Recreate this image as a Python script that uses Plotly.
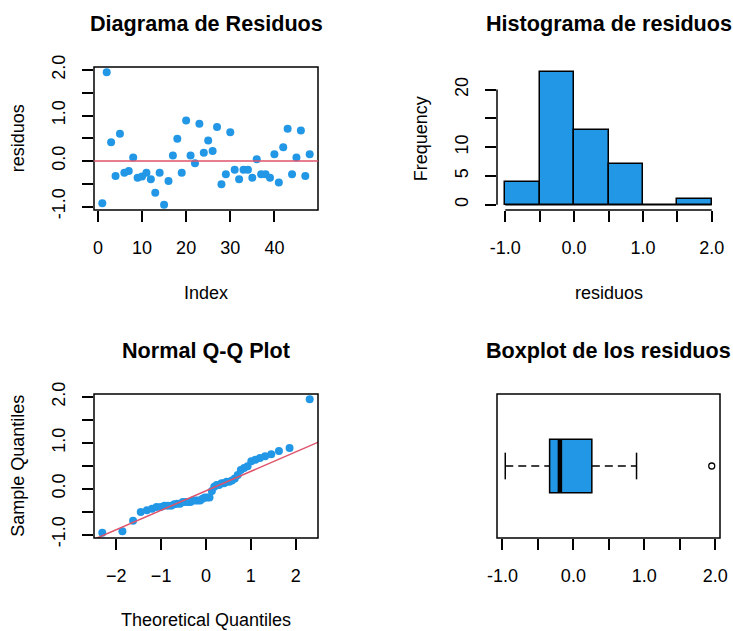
import statistics
import numpy as np
import plotly.graph_objects as go

# Residuals of the fitted model, in observation order
residuos = [
    -0.93, 1.95, 0.41, -0.33, 0.60, -0.26, -0.22, 0.08, -0.37, -0.34,
    -0.26, -0.40, -0.70, -0.26, -0.96, -0.44, 0.12, 0.49, -0.26, 0.89,
    0.12, -0.05, 0.82, 0.18, 0.45, 0.22, 0.75, -0.51, -0.29, 0.63,
    -0.19, -0.40, -0.19, -0.19, -0.37, 0.04, -0.29, -0.29, -0.37, 0.15,
    -0.47, 0.30, 0.71, -0.29, 0.08, 0.67, -0.33, 0.15,
]

# Histogram breaks and axis ticks
breaks = [-1.0, -0.5, 0.0, 0.5, 1.0, 1.5, 2.0]
res_ticks = [-1.0, -0.5, 0.0, 0.5, 1.0, 1.5, 2.0]
res_ticktext = ["-1.0", "", "0.0", "", "1.0", "", "2.0"]
index_ticks = [0, 10, 20, 30, 40]
freq_ticks = [0, 5, 10, 15, 20]
freq_ticktext = ["0", "5", "10", "", "20"]
qq_ticks = [-2, -1, 0, 1, 2]

titles = ["Diagrama de Residuos", "Histograma de residuos",
          "Normal Q-Q Plot", "Boxplot de los residuos"]

BLUE = "#2297E6"
RED = "#DF536B"
FONT = "Liberation Sans, Arial, sans-serif"
W, H = 733, 631

r = np.array(residuos)
n = len(r)
idx = np.arange(1, n + 1)


def pad(lo, hi):
    d = (hi - lo) * 0.04
    return [lo - d, hi + d]


# Histogram counts with right-closed bins (lowest included)
counts = []
for i in range(len(breaks) - 1):
    a, b = breaks[i], breaks[i + 1]
    if i == 0:
        counts.append(int(np.sum((r >= a) & (r <= b))))
    else:
        counts.append(int(np.sum((r > a) & (r <= b))))
centers = [(breaks[i] + breaks[i + 1]) / 2 for i in range(len(breaks) - 1)]
widths = [breaks[i + 1] - breaks[i] for i in range(len(breaks) - 1)]

# Normal Q-Q values
nd = statistics.NormalDist()
pp = [(i - 0.5) / n for i in range(1, n + 1)]
theo = np.array([nd.inv_cdf(p) for p in pp])
samp = np.sort(r)
q1, q3 = np.quantile(r, [0.25, 0.75])
t1, t3 = nd.inv_cdf(0.25), nd.inv_cdf(0.75)
slope = (q3 - q1) / (t3 - t1)
icpt = q1 - slope * t1
line_x = [-4.0, 4.0]
line_y = [icpt + slope * x for x in line_x]

# Tukey five-number summary for the boxplot
s = np.sort(r)
lower = s[: (n + 1) // 2]
upper = s[n // 2:]
h_lo = float(np.median(lower))
h_hi = float(np.median(upper))
med = float(np.median(s))
iqr = h_hi - h_lo
w_lo = float(s[s >= h_lo - 1.5 * iqr].min())
w_hi = float(s[s <= h_hi + 1.5 * iqr].max())
outliers = s[(s < w_lo) | (s > w_hi)]


def px_x(p):
    return p / W


def px_y(p):
    return 1 - p / H


col_dom = [[94 / W, 318 / W], [497 / W, 720 / W]]
row_dom = [[1 - 210 / H, 1 - 67 / H], [1 - 538 / H, 1 - 394 / H]]

fig = go.Figure()

# Panel 1: residuals vs index
fig.add_trace(go.Scatter(x=idx, y=r, mode="markers", xaxis="x", yaxis="y",
                         marker=dict(color=BLUE, size=8), hoverinfo="skip"))
# Panel 2: histogram
fig.add_trace(go.Bar(x=centers, y=counts, width=widths, xaxis="x2", yaxis="y2",
                     marker=dict(color=BLUE, line=dict(color="black", width=1.5)),
                     hoverinfo="skip"))
# Panel 3: normal Q-Q plot
fig.add_trace(go.Scatter(x=theo, y=samp, mode="markers", xaxis="x3", yaxis="y3",
                         marker=dict(color=BLUE, size=8), hoverinfo="skip"))
fig.add_trace(go.Scatter(x=line_x, y=line_y, mode="lines", xaxis="x3", yaxis="y3",
                         line=dict(color=RED, width=1.5), hoverinfo="skip"))
# Panel 4: boxplot outliers
fig.add_trace(go.Scatter(x=outliers, y=[1.0] * len(outliers), mode="markers",
                         xaxis="x4", yaxis="y4",
                         marker=dict(symbol="circle-open", color="black", size=6,
                                     line=dict(width=1.3)),
                         hoverinfo="skip"))

tick_font = dict(family=FONT, size=18, color="black")
common = dict(showgrid=False, zeroline=False, showline=False, ticks="outside",
              ticklen=11, tickwidth=1.5, tickcolor="black", tickfont=tick_font,
              fixedrange=True, automargin=False)
xstand = 10
ystand = 10

yr = pad(r.min(), r.max())
fig.update_layout(
    width=W, height=H,
    margin=dict(l=0, r=0, t=0, b=0, pad=0, autoexpand=False),
    paper_bgcolor="white", plot_bgcolor="white", showlegend=False,
    bargap=0,
    xaxis=dict(domain=col_dom[0], anchor="y", range=pad(1, n),
               tickvals=index_ticks, ticklabelstandoff=xstand, **common),
    yaxis=dict(domain=row_dom[0], anchor="x", range=yr, tickvals=res_ticks,
               ticktext=res_ticktext, tickangle=-90, ticklabelstandoff=ystand, **common),
    xaxis2=dict(domain=col_dom[1], anchor="y2", range=pad(breaks[0], breaks[-1]),
                tickvals=res_ticks, ticktext=res_ticktext, ticklabelstandoff=xstand, **common),
    yaxis2=dict(domain=row_dom[0], anchor="x2", range=pad(0, max(counts)),
                tickvals=freq_ticks, ticktext=freq_ticktext, tickangle=-90,
                ticklabelstandoff=ystand, **common),
    xaxis3=dict(domain=col_dom[0], anchor="y3", range=pad(theo.min(), theo.max()),
                tickvals=qq_ticks, ticklabelstandoff=xstand, **common),
    yaxis3=dict(domain=row_dom[1], anchor="x3", range=pad(samp.min(), samp.max()),
                tickvals=res_ticks, ticktext=res_ticktext, tickangle=-90,
                ticklabelstandoff=ystand, **common),
    xaxis4=dict(domain=col_dom[1], anchor="y4", range=pad(r.min(), r.max()),
                tickvals=res_ticks, ticktext=res_ticktext, ticklabelstandoff=xstand, **common),
    yaxis4=dict(domain=row_dom[1], anchor="x4", range=pad(0.5, 1.5),
                showticklabels=False, ticks="", showgrid=False, zeroline=False,
                showline=False, fixedrange=True),
)

shapes = []
frame = dict(color="black", width=1.5)
# Frames around panels 1, 3, 4
for xr, yr_ in [("x", "y"), ("x3", "y3"), ("x4", "y4")]:
    shapes.append(dict(type="rect", xref=f"{xr} domain", yref=f"{yr_} domain",
                       x0=0, x1=1, y0=0, y1=1, line=frame, layer="above"))
# Reference line at zero in panel 1
shapes.append(dict(type="line", xref="x domain", yref="y", x0=0, x1=1, y0=0, y1=0,
                   line=dict(color=RED, width=1.5), layer="above"))
# Histogram axis lines spanning the tick range, and the bar baseline
shapes.append(dict(type="line", xref="x2", yref="y2 domain", x0=res_ticks[0],
                   x1=res_ticks[-1], y0=0, y1=0, line=frame))
shapes.append(dict(type="line", xref="x2 domain", yref="y2", x0=0, x1=0,
                   y0=freq_ticks[0], y1=freq_ticks[-1], line=frame))
shapes.append(dict(type="line", xref="x2", yref="y2", x0=breaks[0], x1=breaks[-1],
                   y0=0, y1=0, line=frame))
# Boxplot: box, median, whiskers, staples
bh, sh = 0.2, 0.1
shapes.append(dict(type="rect", xref="x4", yref="y4", x0=h_lo, x1=h_hi,
                   y0=1 - bh, y1=1 + bh, fillcolor=BLUE, line=frame, layer="below"))
shapes.append(dict(type="line", xref="x4", yref="y4", x0=med, x1=med,
                   y0=1 - bh, y1=1 + bh, line=dict(color="black", width=4.5)))
for a, b in [(w_lo, h_lo), (h_hi, w_hi)]:
    shapes.append(dict(type="line", xref="x4", yref="y4", x0=a, x1=b, y0=1, y1=1,
                       line=dict(color="black", width=1.5, dash="8px,5px")))
for w in [w_lo, w_hi]:
    shapes.append(dict(type="line", xref="x4", yref="y4", x0=w, x1=w,
                       y0=1 - sh, y1=1 + sh, line=frame))
fig.update_layout(shapes=shapes)

ann = []
title_font = dict(family=FONT, size=21.6, color="black")
lab_font = dict(family=FONT, size=18, color="black")
col_cx = [206, 608.5]
row_title_y = [23.5, 350.5]
for k, t in enumerate(titles):
    c, rr = k % 2, k // 2
    ann.append(dict(text=f"<b>{t}</b>", x=px_x(col_cx[c]), y=px_y(row_title_y[rr]),
                    xref="paper", yref="paper", showarrow=False, font=title_font,
                    xanchor="center", yanchor="middle"))
# Axis titles
xlabs = [("Index", 206, 293), ("residuos", 608.5, 293), ("Theoretical Quantiles", 206, 620)]
for t, x, y in xlabs:
    ann.append(dict(text=t, x=px_x(x), y=px_y(y), xref="paper", yref="paper",
                    showarrow=False, font=lab_font, xanchor="center", yanchor="middle"))
ylabs = [("residuos", 17.8, 138.5), ("Frequency", 420.8, 138.5),
         ("Sample Quantiles", 17.8, 466)]
for t, x, y in ylabs:
    ann.append(dict(text=t, x=px_x(x), y=px_y(y), xref="paper", yref="paper",
                    showarrow=False, font=lab_font, textangle=-90,
                    xanchor="center", yanchor="middle"))
fig.update_layout(annotations=ann)

fig.write_html("out.html")
